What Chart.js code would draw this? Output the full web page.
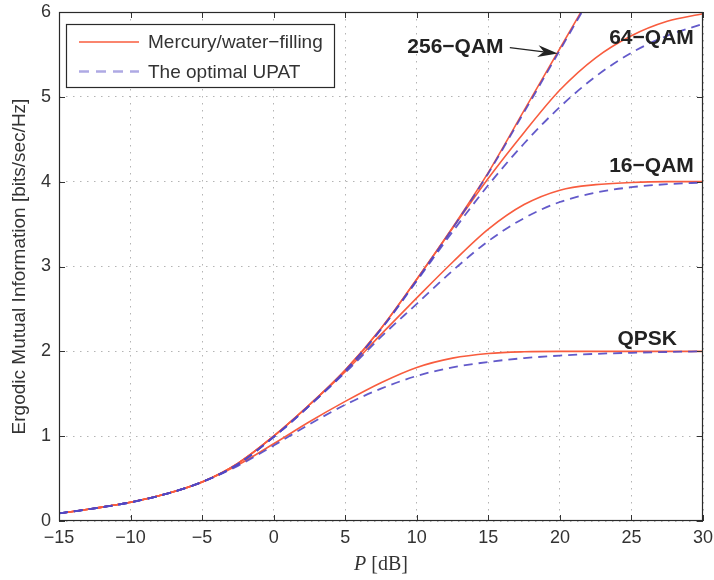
<!DOCTYPE html>
<html>
<head>
<meta charset="utf-8">
<script src="https://cdn.jsdelivr.net/npm/chart.js@4.4.1/dist/chart.umd.min.js"></script>
<style>
  html, body { margin: 0; padding: 0; background: #fff; }
  #wrap { width: 714px; height: 580px; }
</style>
</head>
<body>
<div id="wrap"><canvas id="chart" width="714" height="580"></canvas></div>
<script>
// transmit power, dB
const powerDb = [-15, -12.5, -10, -7.5, -5, -2.5, 0, 2.5, 5, 7.5, 10, 12.5, 15, 17.5, 20, 22.5, 25, 27.5, 30];

// ergodic mutual information, bits/sec/Hz
const qpskMercury  = [0.09, 0.15, 0.22, 0.32, 0.46, 0.66, 0.91, 1.17, 1.41, 1.63, 1.81, 1.92, 1.975, 1.995, 2.00, 2.00, 2.00, 2.00, 2.00];
const qpskUpat     = [0.09, 0.15, 0.22, 0.32, 0.46, 0.65, 0.89, 1.14, 1.37, 1.56, 1.71, 1.81, 1.875, 1.92, 1.95, 1.97, 1.983, 1.992, 2.00];
const qam16Mercury = [0.09, 0.15, 0.22, 0.32, 0.46, 0.68, 1.00, 1.37, 1.76, 2.20, 2.63, 3.05, 3.44, 3.73, 3.90, 3.965, 3.99, 4.00, 4.00];
const qam16Upat    = [0.09, 0.15, 0.22, 0.32, 0.46, 0.67, 0.99, 1.36, 1.75, 2.17, 2.56, 2.95, 3.30, 3.57, 3.76, 3.87, 3.935, 3.97, 3.99];
const qam64Mercury = [0.09, 0.15, 0.22, 0.32, 0.46, 0.68, 1.00, 1.37, 1.78, 2.27, 2.85, 3.45, 4.04, 4.58, 5.08, 5.46, 5.72, 5.89, 5.98];
const qam64Upat    = [0.09, 0.15, 0.22, 0.32, 0.46, 0.67, 0.99, 1.36, 1.77, 2.26, 2.83, 3.41, 3.96, 4.45, 4.88, 5.24, 5.52, 5.72, 5.86];
const qam256Mercury = [0.09, 0.15, 0.22, 0.32, 0.46, 0.68, 1.00, 1.37, 1.78, 2.27, 2.85, 3.46, 4.11, 4.84, 5.57, 6.30];
const qam256Upat    = [0.09, 0.15, 0.22, 0.32, 0.46, 0.67, 0.99, 1.36, 1.77, 2.26, 2.84, 3.45, 4.10, 4.82, 5.55, 6.28];

const seriesNames = ["Mercury/water\u2212filling", "The optimal UPAT"];

// curve labels
const curveLabels = ["256\u2212QAM", "64\u2212QAM", "16\u2212QAM", "QPSK"];
const curveLabelX = [12.7, 26.4, 26.4, 26.1];
const curveLabelY = [5.59, 5.69, 4.18, 2.14];
// arrow for the 256-QAM label: from -> to
const arrowX = [16.5, 19.85];
const arrowY = [5.58, 5.51];

const mercuryColor = "rgb(248, 92, 62)";
const upatColor = "rgba(82, 72, 196, 0.9)";

function points(vals) {
  return vals.map((v, i) => ({ x: powerDb[i], y: v }));
}

function mercury(vals) {
  return {
    label: seriesNames[0],
    data: points(vals),
    borderColor: mercuryColor,
    borderWidth: 1.6,
    pointRadius: 0,
    cubicInterpolationMode: "monotone",
    order: 2
  };
}

function upat(vals) {
  return {
    label: seriesNames[1],
    data: points(vals),
    borderColor: upatColor,
    borderWidth: 1.8,
    borderDash: [9, 6],
    pointRadius: 0,
    cubicInterpolationMode: "monotone",
    order: 1
  };
}

const sans = "'Liberation Sans', Arial, sans-serif";

const overlay = {
  id: "overlay",
  afterDraw(chart) {
    const { ctx, chartArea: a, scales: { x, y } } = chart;
    ctx.save();

    // tick marks inside the box
    ctx.strokeStyle = "#333";
    ctx.lineWidth = 1;
    ctx.beginPath();
    x.ticks.forEach((t) => {
      const px = Math.round(x.getPixelForValue(t.value)) + 0.5;
      ctx.moveTo(px, a.bottom); ctx.lineTo(px, a.bottom - 6);
      ctx.moveTo(px, a.top); ctx.lineTo(px, a.top + 6);
    });
    y.ticks.forEach((t) => {
      const py = Math.round(y.getPixelForValue(t.value)) + 0.5;
      ctx.moveTo(a.left, py); ctx.lineTo(a.left + 6, py);
      ctx.moveTo(a.right, py); ctx.lineTo(a.right - 6, py);
    });
    ctx.stroke();

    // frame
    ctx.strokeStyle = "#2a2a2a";
    ctx.lineWidth = 1.2;
    ctx.strokeRect(a.left + 0.5, a.top + 0.5, a.width - 1, a.height - 1);

    // curve labels
    ctx.fillStyle = "#222";
    ctx.font = "bold 21px " + sans;
    ctx.textAlign = "center";
    ctx.textBaseline = "middle";
    curveLabels.forEach((txt, i) => {
      ctx.fillText(txt, x.getPixelForValue(curveLabelX[i]), y.getPixelForValue(curveLabelY[i]));
    });

    // arrow
    const x0 = x.getPixelForValue(arrowX[0]), y0 = y.getPixelForValue(arrowY[0]);
    const x1 = x.getPixelForValue(arrowX[1]), y1 = y.getPixelForValue(arrowY[1]);
    const ang = Math.atan2(y1 - y0, x1 - x0);
    ctx.strokeStyle = "#222";
    ctx.lineWidth = 1.2;
    ctx.beginPath();
    ctx.moveTo(x0, y0);
    ctx.lineTo(x1 - 14 * Math.cos(ang), y1 - 14 * Math.sin(ang));
    ctx.stroke();
    ctx.beginPath();
    ctx.moveTo(x1, y1);
    ctx.lineTo(x1 - 20 * Math.cos(ang) + 6 * Math.sin(ang), y1 - 20 * Math.sin(ang) - 6 * Math.cos(ang));
    ctx.lineTo(x1 - 14 * Math.cos(ang), y1 - 14 * Math.sin(ang));
    ctx.lineTo(x1 - 20 * Math.cos(ang) - 6 * Math.sin(ang), y1 - 20 * Math.sin(ang) + 6 * Math.cos(ang));
    ctx.closePath();
    ctx.fillStyle = "#222";
    ctx.fill();

    // legend
    const lx = a.left + 7, ly = a.top + 12, lw = 268, lh = 63;
    ctx.fillStyle = "#fff";
    ctx.fillRect(lx, ly, lw, lh);
    ctx.strokeStyle = "#2a2a2a";
    ctx.lineWidth = 1.2;
    ctx.strokeRect(lx + 0.5, ly + 0.5, lw, lh);
    ctx.font = "19px " + sans;
    ctx.textAlign = "left";
    ctx.fillStyle = "#333";
    const rows = [
      { text: seriesNames[0], color: mercuryColor, dash: [], w: 1.6 },
      { text: seriesNames[1], color: "rgba(120, 112, 210, 0.6)", dash: [10, 7], w: 2.4 }
    ];
    rows.forEach((r, i) => {
      const ry = ly + 18 + i * 29.5;
      ctx.strokeStyle = r.color;
      ctx.lineWidth = r.w;
      ctx.setLineDash(r.dash);
      ctx.beginPath();
      ctx.moveTo(lx + 13, ry);
      ctx.lineTo(lx + 73, ry);
      ctx.stroke();
      ctx.setLineDash([]);
      ctx.fillText(r.text, lx + 82, ry + 1);
    });

    // x axis title: italic P [dB]
    ctx.fillStyle = "#333";
    ctx.textBaseline = "middle";
    const p1 = "P", p2 = " [dB]";
    ctx.font = "italic 20px 'Liberation Serif', serif";
    const w1 = ctx.measureText(p1).width;
    ctx.font = "20px 'Liberation Serif', serif";
    const w2 = ctx.measureText(p2).width;
    const cx = (a.left + a.right) / 2 - (w1 + w2) / 2;
    ctx.font = "italic 20px 'Liberation Serif', serif";
    ctx.fillText(p1, cx, 565);
    ctx.font = "20px 'Liberation Serif', serif";
    ctx.fillText(p2, cx + w1, 565);

    ctx.restore();
  }
};

new Chart(document.getElementById("chart"), {
  type: "line",
  data: {
    datasets: [
      upat(qam256Upat), mercury(qam256Mercury),
      upat(qam64Upat), mercury(qam64Mercury),
      upat(qam16Upat), mercury(qam16Mercury),
      upat(qpskUpat), mercury(qpskMercury)
    ]
  },
  options: {
    responsive: false,
    animation: false,
    layout: { padding: { top: 12, right: 11, left: 0, bottom: 0 } },
    plugins: {
      legend: { display: false },
      tooltip: { enabled: false }
    },
    scales: {
      x: {
        type: "linear",
        min: -15,
        max: 30,
        afterFit: (s) => { s.height = 59; s.paddingLeft = 0; s.paddingRight = 0; },
        ticks: {
          stepSize: 5,
          padding: 6,
          color: "#333",
          font: { family: sans, size: 18 },
          callback: (v) => String(v).replace("-", "\u2212")
        },
        grid: { color: "#b4b4b4", lineWidth: 1, drawTicks: false },
        border: { display: false, dash: [1.5, 5.5] }
      },
      y: {
        min: 0,
        max: 6,
        afterFit: (s) => { s.width = 59; s.paddingTop = 0; s.paddingBottom = 0; },
        ticks: {
          stepSize: 1,
          padding: 8,
          color: "#333",
          font: { family: sans, size: 18 }
        },
        grid: { color: "#b4b4b4", lineWidth: 1, drawTicks: false },
        border: { display: false, dash: [1.5, 5.5] },
        title: {
          display: true,
          text: "Ergodic Mutual Information [bits/sec/Hz]",
          color: "#333",
          font: { family: sans, size: 19 },
          padding: { top: 8, bottom: 0 }
        }
      }
    }
  },
  plugins: [overlay]
});
</script>
</body>
</html>
